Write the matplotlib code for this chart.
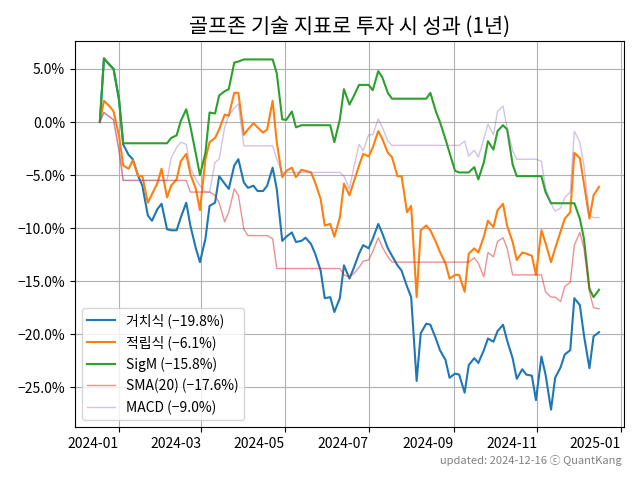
import numpy as np
import pandas as pd
import matplotlib
matplotlib.use('Agg')
import matplotlib.pyplot as plt
import matplotlib.dates as mdates
from matplotlib.ticker import PercentFormatter

plt.rcParams['font.family'] = ['Noto Sans CJK KR', 'DejaVu Sans']

# samples on Mondays and Thursdays, 2023-12-18 .. 2024-12-16 (returns in %)
mondays = pd.date_range('2023-12-18', '2024-12-16', freq='W-MON')
thursdays = pd.date_range('2023-12-21', '2024-12-12', freq='W-THU')
dates = mondays.union(thursdays)

hold = [0, 6.0, 5.4, 5.0, 2.1, -2.1, -3.1, -3.5, -5.1, -6.0,
        -8.8, -9.3, -8.2, -7.7, -10.1, -10.2, -10.2, -9.0, -7.6, -9.75,
        -11.9, -13.2, -11.0, -7.9, -7.6, -5.1, -5.8, -6.3, -4.1, -3.5,
        -5.7, -6.2, -6.0, -6.5, -6.5, -6.0, -4.3, -6.3, -11.2, -10.8,
        -10.4, -11.3, -11.2, -10.9, -11.5, -12.4, -14.0, -16.6, -16.5, -17.9,
        -16.6, -13.5, -14.75, -13.8, -12.4, -11.6, -11.9, -11.0, -9.6, -10.5,
        -11.9, -12.6, -13.5, -14.0, -15.5, -16.5, -24.4, -19.9, -19.0, -19.1,
        -20.4, -21.5, -22.4, -24.1, -23.7, -23.8, -25.5, -22.9, -22.25, -22.7,
        -21.5, -20.4, -20.7, -19.7, -19.1, -20.6, -22.25, -24.2, -23.3, -23.8,
        -23.9, -26.2, -22.1, -23.8, -27.1, -24.1, -23.1, -21.9, -21.5, -16.6,
        -17.25, -20.1, -23.2, -20.2,
        -19.8]
accum = [0, 2.0, 1.5, 1.0, -1.3, -4.1, -4.4, -3.6, -5.1, -5.1,
         -7.6, -6.8, -5.75, -4.4, -7.1, -6.0, -5.4, -3.7, -3.0, -4.9,
         -6.3, -8.3, -3.5, -1.9, -1.5, -0.7, 0.7, 0.6, 2.75, 2.75,
         -1.2, -0.7, -0.1, -0.5, -1.0, -0.7, 2.0, -1.9, -5.2, -4.6,
         -4.3, -5.2, -4.5, -4.6, -4.75, -5.7, -7.25, -9.75, -9.6, -10.8,
         -9.0, -5.8, -6.9, -5.7, -4.1, -3.0, -3.25, -2.4, -0.85, -1.6,
         -2.9, -3.3, -5.1, -5.1, -8.5, -7.9, -16.5, -10.2, -9.75, -10.2,
         -11.3, -12.25, -13.3, -14.75, -14.4, -14.4, -16.0, -12.4, -11.9, -12.3,
         -10.8, -9.3, -9.9, -8.3, -7.7, -9.8, -11.3, -13.0, -12.3, -12.4,
         -12.6, -14.4, -10.2, -11.4, -13.2, -11.9, -10.3, -9.1, -8.5, -2.9,
         -3.4, -5.8, -9.1, -6.9,
         -6.1]
sigm = [0, 6.0, 5.4, 5.0, 2.1, -2.0, -2.0, -2.0, -2.0, -2.0,
        -2.0, -2.0, -2.0, -2.0, -2.0, -1.5, -1.25, 0.1, 1.2, -0.4,
        -3.0, -5.0, -2.9, 0.9, 0.8, 2.5, 2.9, 3.1, 5.6, 5.7,
        5.9, 5.9, 5.9, 5.9, 5.9, 5.9, 5.9, 4.6, 0.25, 0.2,
        1.0, -0.5, -0.3, -0.3, -0.3, -0.3, -0.3, -0.3, -0.3, -1.9,
        0.25, 3.1, 1.65, 2.4, 3.5, 3.5, 3.5, 3.0, 4.8, 4.2,
        2.75, 2.2, 2.2, 2.2, 2.2, 2.2, 2.2, 2.2, 2.2, 2.75,
        1.0, 0.0, -1.6, -2.9, -4.6, -4.75, -4.75, -4.75, -4.25, -5.4,
        -3.8, -1.8, -2.6, -0.85, -0.3, -0.7, -4.0, -5.1, -5.1, -5.1,
        -5.1, -5.1, -5.1, -6.6, -7.65, -7.65, -7.65, -7.65, -7.65, -7.65,
        -9.1, -11.0, -15.7, -16.5,
        -15.8]
sma20 = [0, 0.9, 0.5, 0.2, -2.7, -5.5, -5.5, -5.5, -5.5, -5.5,
         -5.5, -5.5, -5.5, -5.5, -5.5, -5.5, -5.5, -5.5, -5.5, -6.6,
         -6.6, -6.6, -6.6, -6.6, -6.9, -7.6, -9.4, -8.5, -6.3, -6.9,
         -10.1, -10.7, -10.7, -10.7, -10.7, -10.7, -11.0, -13.8, -13.8, -13.8,
         -13.8, -13.8, -13.8, -13.8, -13.8, -13.8, -13.8, -13.8, -13.8, -13.8,
         -13.8, -14.4, -14.6, -14.3, -13.7, -13.1, -13.0, -12.2, -10.9, -11.8,
         -12.7, -13.2, -13.2, -13.2, -13.2, -13.2, -13.2, -13.2, -13.2, -13.2,
         -13.2, -13.2, -13.2, -13.2, -13.2, -13.2, -13.2, -13.2, -12.8, -13.3,
         -14.6, -12.3, -12.7, -11.25, -10.9, -11.9, -14.4, -14.4, -14.4, -14.4,
         -14.4, -14.4, -14.4, -16.0, -16.5, -16.5, -16.9, -15.5, -15.1, -11.6,
         -10.4, -11.9, -16.0, -17.5,
         -17.6]
macd = [0, 0.9, 0.5, 0.2, -2.7, -5.5, -5.5, -5.5, -5.5, -5.5,
        -5.5, -5.5, -5.5, -5.5, -5.5, -3.4, -2.4, -1.9, -2.1, -4.3,
        -5.4, -6.0, -6.6, -6.6, -3.8, -3.5, -0.5, 0.6, 1.3, 1.7,
        -2.25, -2.25, -2.25, -2.25, -2.25, -2.25, -2.25, -3.5, -4.75, -4.75,
        -4.75, -4.75, -4.75, -4.75, -4.75, -4.75, -4.75, -4.75, -4.75, -4.75,
        -4.75, -5.1, -6.3, -4.4, -2.1, -2.7, -1.2, -1.2, 0.3, -0.5,
        -1.8, -2.2, -2.2, -2.2, -2.2, -2.2, -2.2, -2.2, -2.2, -2.2,
        -2.2, -2.2, -2.2, -2.2, -2.2, -2.2, -1.8, -3.2, -2.65, -3.3,
        -1.6, -0.2, -1.2, 1.0, 1.5, -0.6, -2.7, -3.5, -3.5, -3.5,
        -3.5, -3.5, -3.7, -6.2, -7.7, -8.4, -8.1, -7.1, -6.6, -0.85,
        -1.9, -4.1, -8.8, -9.0,
        -9.0]


def label(name, vals):
    return f'{name} ({vals[-1]:.1f}%)'.replace('-', '−')


fig, ax = plt.subplots(figsize=(6.4, 4.8), dpi=100)
fig.subplots_adjust(left=0.117, right=0.975, top=0.915, bottom=0.11)

ax.plot(dates, hold, color='tab:blue', lw=1.5, label=label('거치식', hold))
ax.plot(dates, accum, color='tab:orange', lw=1.5, label=label('적립식', accum))
ax.plot(dates, sigm, color='tab:green', lw=1.5, label=label('SigM', sigm))
ax.plot(dates, sma20, color='tab:red', lw=1, alpha=0.5, label=label('SMA(20)', sma20))
ax.plot(dates, macd, color='tab:purple', lw=1, alpha=0.4, label=label('MACD', macd))

ax.yaxis.set_major_formatter(PercentFormatter(100, decimals=1))
ax.xaxis.set_major_locator(mdates.MonthLocator(bymonth=[1, 3, 5, 7, 9, 11]))
ax.xaxis.set_major_formatter(mdates.DateFormatter('%Y-%m'))
for lbl in ax.get_xticklabels():
    lbl.set_ha('right')
ax.grid(True, color='#b0b0b0')
ax.set_title('골프존 기술 지표로 투자 시 성과 (1년)', fontsize=15)
ax.legend(loc='lower left', fontsize=10)

fig.text(0.972, 0.033, 'updated: 2024-12-16 ⓒ QuantKang', ha='right', color='gray', fontsize=8)

fig.savefig('out.png')
